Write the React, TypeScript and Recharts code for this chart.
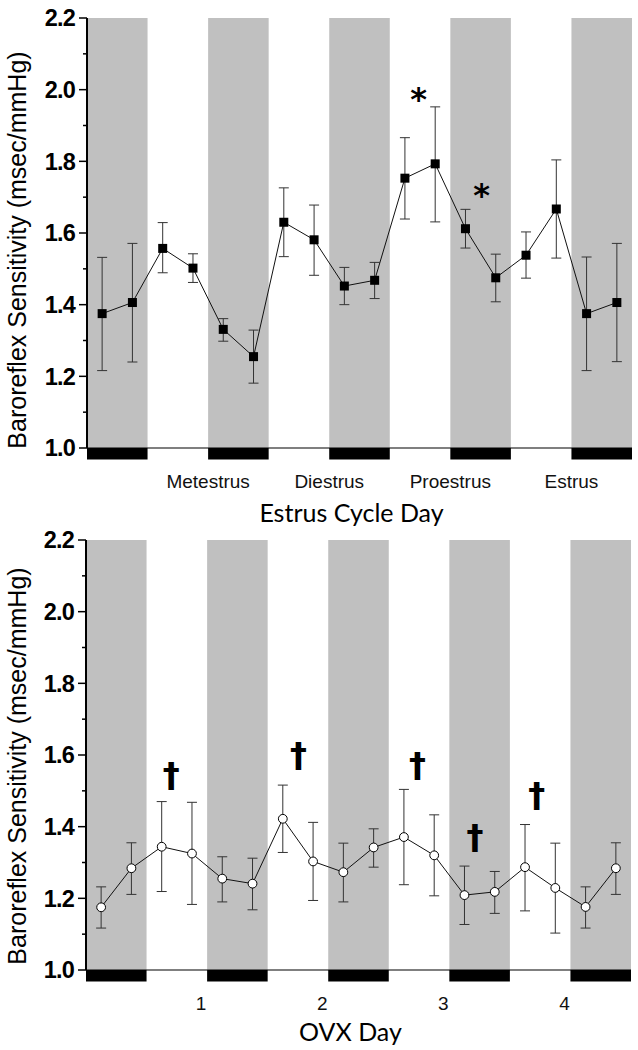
import React from "react";
import { ComposedChart, Line, XAxis, YAxis, ErrorBar, ReferenceArea, ReferenceDot } from "recharts";

// sampling times (h from first dark onset), 4 per day
const hours = [3, 9, 15, 21, 27, 33, 39, 45, 51, 57, 63, 69, 75, 81, 87, 93, 99, 105];

// intact estrus cycle
const estrusBrs = [1.375, 1.406, 1.557, 1.502, 1.331, 1.255, 1.630, 1.581, 1.452, 1.468, 1.753, 1.793, 1.612, 1.475, 1.538, 1.667, 1.375, 1.406];
const estrusLo = [1.216, 1.240, 1.489, 1.462, 1.298, 1.181, 1.534, 1.482, 1.400, 1.417, 1.639, 1.631, 1.558, 1.408, 1.474, 1.530, 1.216, 1.241];
const estrusHi = [1.532, 1.571, 1.629, 1.542, 1.361, 1.329, 1.726, 1.678, 1.504, 1.518, 1.866, 1.952, 1.666, 1.541, 1.603, 1.804, 1.533, 1.571];

// ovariectomized
const ovxBrs = [1.175, 1.284, 1.344, 1.325, 1.255, 1.241, 1.422, 1.303, 1.273, 1.342, 1.371, 1.320, 1.209, 1.218, 1.287, 1.229, 1.176, 1.284];
const ovxLo = [1.117, 1.211, 1.219, 1.183, 1.190, 1.168, 1.328, 1.194, 1.190, 1.287, 1.238, 1.207, 1.127, 1.158, 1.165, 1.103, 1.117, 1.211];
const ovxHi = [1.232, 1.355, 1.470, 1.468, 1.316, 1.312, 1.516, 1.412, 1.354, 1.394, 1.504, 1.433, 1.290, 1.275, 1.406, 1.354, 1.232, 1.355];

// dark phases (h)
const darkStart = [0, 24, 48, 72, 96];
const darkEnd = [12, 36, 60, 84, 108];

const dayTicks = [24, 48, 72, 96];
const estrusTickLabels = ["Metestrus", "Diestrus", "Proestrus", "Estrus"];
const ovxTickLabels = ["1", "2", "3", "4"];

const yTicks = [1.0, 1.1, 1.2, 1.3, 1.4, 1.5, 1.6, 1.7, 1.8, 1.9, 2.0, 2.1, 2.2];

// significance marks
const starT = [65.7, 78.2];
const starV = [1.995, 1.727];
const daggerT = [16.9, 42.1, 65.7, 77.1, 89.3];
const daggerV = [1.535, 1.591, 1.563, 1.363, 1.479];

const SANS = "'Liberation Sans', Arial, sans-serif";
const TITLE = "Lato, 'Liberation Sans', sans-serif";

const build = (v: number[], lo: number[], hi: number[]) =>
  hours.map((t, i) => ({ t, v: v[i], err: [v[i] - lo[i], hi[i] - v[i]] }));

const estrusData = build(estrusBrs, estrusLo, estrusHi);
const ovxData = build(ovxBrs, ovxLo, ovxHi);

function YTick(props: any) {
  const { x, y, payload } = props;
  const v = payload.value;
  const major = Math.round(v * 10) % 2 === 0;
  return (
    <g>
      <line x1={x - (major ? 8 : 4)} x2={x} y1={y} y2={y} stroke="#000" strokeWidth={1.5} />
      {major && (
        <text x={x - 12} y={y} dy="0.36em" textAnchor="end" fontFamily={SANS} fontWeight="bold" fontSize={23.5} letterSpacing={-0.8} fill="#000">
          {v.toFixed(1)}
        </text>
      )}
    </g>
  );
}

const square = (p: any) => <rect key={p.index} x={p.cx - 4.5} y={p.cy - 4.5} width={9} height={9} fill="#000" />;
const circle = (p: any) => <circle key={p.index} cx={p.cx} cy={p.cy} r={4.4} fill="#fff" stroke="#000" strokeWidth={1} />;

function Panel({
  data, dot, tickLabels, title, titleY, labelY, top, tickDx, marks,
}: {
  data: any[]; dot: any; tickLabels: string[]; title: string; titleY: number; labelY: number;
  top: number; tickDx: number; marks: React.ReactNode;
}) {
  return (
    <div style={{ position: "absolute", left: 0, top }}>
      <ComposedChart width={638} height={530} data={data} margin={{ top: top === 0 ? 18 : 20, right: top === 0 ? 6 : 7, bottom: 0, left: 0 }}>
        {darkStart.map((s, i) => (
          <ReferenceArea key={"g" + i} x1={s} x2={darkEnd[i]} y1={1.0} y2={2.2} fill="#c0c0c0" fillOpacity={1} stroke="none" />
        ))}
        {darkStart.map((s, i) => (
          <ReferenceArea key={"b" + i} x1={s} x2={darkEnd[i]} y1={0.968} y2={1.0} ifOverflow="visible" fill="#000" fillOpacity={1} stroke="none" />
        ))}
        <XAxis
          type="number"
          dataKey="t"
          domain={[0, 108]}
          ticks={dayTicks}
          interval={0}
          tickFormatter={(v: number) => tickLabels[dayTicks.indexOf(v)]}
          tickLine={false}
          tickSize={0}
          tickMargin={27}
          axisLine={{ stroke: "#000", strokeWidth: 1.2 }}
          tick={{ fontSize: 19, fill: "#111", fontFamily: SANS, dx: tickDx }}
          height={530 - (top === 0 ? 18 : 20) - 430}
          label={{
            content: (p: any) => (
              <text x={p.viewBox.x + p.viewBox.width / 2 - 8} y={titleY} textAnchor="middle" fontFamily={TITLE} fontSize={25} fill="#000">
                {title}
              </text>
            ),
          }}
        />
        <YAxis
          type="number"
          domain={[1.0, 2.2]}
          ticks={yTicks}
          interval={0}
          width={top === 0 ? 87 : 86}
          tickLine={false}
          tickSize={0}
          tickMargin={0}
          axisLine={{ stroke: "#000", strokeWidth: 2 }}
          tick={<YTick />}
          label={{
            content: () => (
              <text x={26} y={labelY} transform={`rotate(-90 26 ${labelY})`} textAnchor="middle" fontFamily={SANS} fontSize={25} fill="#000">
                Baroreflex Sensitivity (msec/mmHg)
              </text>
            ),
          }}
        />
        <Line dataKey="v" stroke="#111" strokeWidth={1} dot={dot} activeDot={false} isAnimationActive={false}>
          <ErrorBar dataKey="err" direction="y" width={5} stroke="#333" strokeWidth={1} />
        </Line>
        {marks}
      </ComposedChart>
    </div>
  );
}

export default function App() {
  const stars = starT.map((t, i) => (
    <ReferenceDot
      key={"s" + i}
      x={t}
      y={starV[i]}
      r={0}
      shape={(p: any) => (
        <text x={p.cx} y={p.cy + 19} textAnchor="middle" fontFamily="'DejaVu Sans'" fontWeight="bold" fontSize={32} fill="#000">
          *
        </text>
      )}
    />
  ));
  const daggers = daggerT.map((t, i) => (
    <ReferenceDot
      key={"d" + i}
      x={t}
      y={daggerV[i]}
      r={0}
      shape={(p: any) => (
        <text x={p.cx} y={p.cy + 9} textAnchor="middle" fontFamily="'DejaVu Sans'" fontWeight="bold" fontSize={34} fill="#000">
          †
        </text>
      )}
    />
  ));
  return (
    <div style={{ position: "absolute", left: 0, top: 0, width: 638, height: 1050, background: "#fff" }}>
      <Panel data={ovxData} dot={circle} tickLabels={ovxTickLabels} title="OVX Day" titleY={521} labelY={246} top={520} tickDx={-6} marks={daggers} />
      <Panel data={estrusData} dot={square} tickLabels={estrusTickLabels} title="Estrus Cycle Day" titleY={522} labelY={250} top={0} tickDx={0} marks={stars} />
    </div>
  );
}
